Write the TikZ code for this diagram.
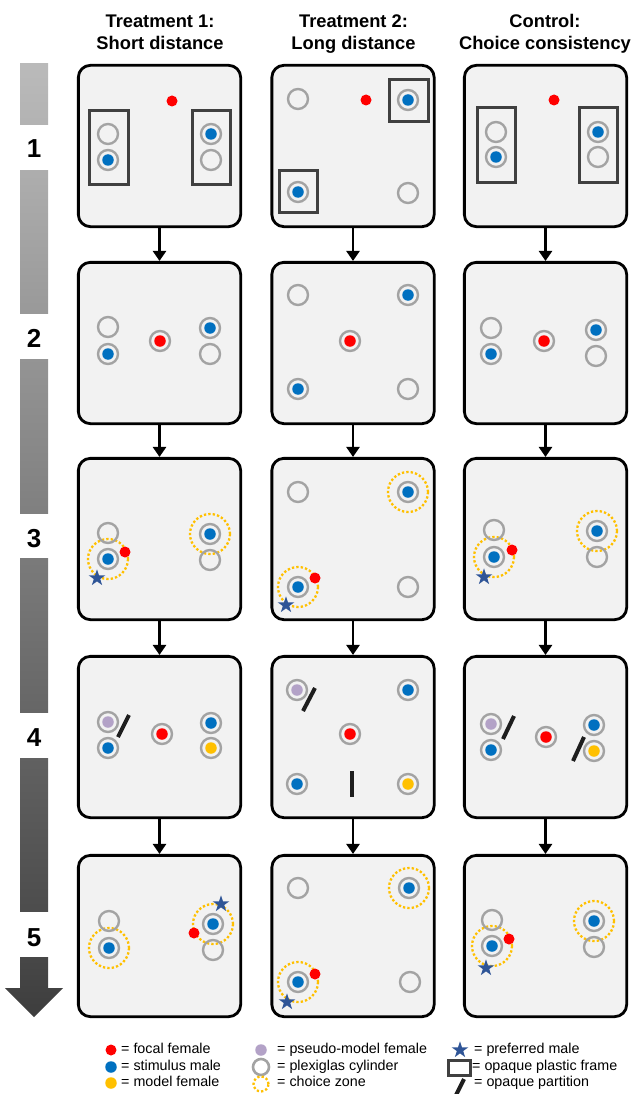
\documentclass[tikz,border=0pt]{standalone}
\usepackage{fontspec}
\setmainfont{Liberation Sans}
\usetikzlibrary{arrows.meta,shapes.geometric}
\definecolor{panelfill}{HTML}{F2F2F2}
\definecolor{ringgray}{HTML}{A3A3A3}
\definecolor{malblue}{HTML}{0070C0}
\definecolor{femred}{HTML}{FF0000}
\definecolor{modelyellow}{HTML}{FFC000}
\definecolor{zoneyellow}{HTML}{FFC000}
\definecolor{pseudo}{HTML}{B3A2C7}
\definecolor{starblue}{HTML}{2F5597}
\definecolor{framegray}{HTML}{404040}
\definecolor{partblack}{HTML}{1E1E1E}
\newcommand{\ecyl}[2]{\node[ring] (#1) at (#2) {};}
\newcommand{\fcyl}[3]{\node[ring] (#1) at (#2) {}; \node[fdot=#3] (#1d) at (#1) {};}
\newcommand{\czn}[2]{\node[czone] (#1) at (#2) {};}
\begin{document}
\begin{tikzpicture}[x=1pt,y=-1pt,
  panel/.style={draw=black, line width=2.8pt, fill=panelfill, rounded corners=12pt, minimum width=162.3pt, minimum height=161.3pt, inner sep=0pt},
  ring/.style={circle, draw=ringgray, line width=2.4pt, minimum size=20pt, inner sep=0pt},
  fdot/.style={circle, fill=#1, minimum size=11.5pt, inner sep=0pt},
  focal/.style={circle, fill=femred, minimum size=11pt, inner sep=0pt},
  czone/.style={circle, draw=zoneyellow, line width=2.3pt, dash pattern=on 2.3pt off 2.1pt, minimum size=40pt, inner sep=0pt},
  pstar/.style={star, star points=5, star point ratio=2.6, fill=starblue, minimum size=17.5pt, inner sep=0pt},
  pframe/.style={draw=framegray, line width=3pt},
  part/.style={draw=partblack, line width=4pt},
  flow/.style={draw=black, line width=2.8pt, -{Triangle[width=13pt,length=10pt]}},
  title/.style={font=\fontsize{18.3}{22}\selectfont\bfseries, anchor=base, inner sep=0pt},
  numlab/.style={font=\fontsize{26}{30}\selectfont\bfseries, anchor=base, inner sep=0pt},
  legtext/.style={font=\fontsize{14.3}{16}\selectfont, anchor=west, inner sep=0pt, text height=10pt, text depth=3pt}
]
\path[use as bounding box, fill=white] (0,0) rectangle (635,1094);

% titles
\node[title] (t1a) at (160,27.5) {Treatment 1:};
\node[title] (t1b) at (160,49.5) {Short distance};
\node[title] (t2a) at (353.5,27.5) {Treatment 2:};
\node[title] (t2b) at (353.5,49.5) {Long distance};
\node[title] (t3a) at (545,27.5) {Control:};
\node[title] (t3b) at (545,49.5) {Choice consistency};

% left time bar
\shade[top color=black!27, bottom color=black!30] (20,64) rectangle (48,125);
\shade[top color=black!32, bottom color=black!40] (20,171) rectangle (48,313);
\shade[top color=black!42, bottom color=black!50] (20,359) rectangle (48,513);
\shade[top color=black!52, bottom color=black!60] (20,558) rectangle (48,712);
\shade[top color=black!62, bottom color=black!70] (20,758) rectangle (48,911);
\shade[top color=black!72, bottom color=black!76] (20,957) -- (48,957) -- (48,988) -- (63,988) -- (34,1017) -- (5,988) -- (20,988) -- cycle;
\node[numlab] (n1) at (34,158) {1};
\node[numlab] (n2) at (34,347) {2};
\node[numlab] (n3) at (34,547) {3};
\node[numlab] (n4) at (34,746) {4};
\node[numlab] (n5) at (34,946) {5};

% panels
\foreach \r/\yc in {1/146,2/343,3/539,4/737,5/936}{
  \node[panel] (b\r1) at (159.5,\yc) {};
  \node[panel] (b\r2) at (353,\yc) {};
  \node[panel] (b\r3) at (545.5,\yc) {};
}
\foreach \r/\s in {1/2,2/3,3/4,4/5}{
  \draw[flow] (b\r1.south) -- (b\s1.north);
  \draw[flow] (b\r2.south) -- (b\s2.north);
  \draw[flow] (b\r3.south) -- (b\s3.north);
}

% ---------- row 1
\begin{scope}[shift={(78,64)}]
  \node[focal] (a11r) at (94,37) {};
  \draw[pframe] (11,47) rectangle (50,121);
  \draw[pframe] (114,47) rectangle (152,121);
  \ecyl{a11a}{30,70} \fcyl{a11b}{30,96}{malblue}
  \fcyl{a11c}{133,70}{malblue} \ecyl{a11d}{133,96}
\end{scope}
\begin{scope}[shift={(270,64)}]
  \node[focal] (a12r) at (96,36) {};
  \draw[pframe] (119,16) rectangle (158,58);
  \draw[pframe] (9,107) rectangle (47,148);
  \ecyl{a12a}{28,35} \fcyl{a12b}{138,36}{malblue}
  \fcyl{a12c}{28,128}{malblue} \ecyl{a12d}{138,129}
\end{scope}
\begin{scope}[shift={(463,64)}]
  \node[focal] (a13r) at (91,36) {};
  \draw[pframe] (14,44) rectangle (52,119);
  \draw[pframe] (116,44) rectangle (154,119);
  \ecyl{a13a}{33,68} \fcyl{a13b}{33,93}{malblue}
  \fcyl{a13c}{135,68}{malblue} \ecyl{a13d}{135,93}
\end{scope}

% ---------- row 2
\begin{scope}[shift={(78,261)}]
  \ecyl{a21a}{30,66} \fcyl{a21b}{30,93}{malblue}
  \fcyl{a21r}{82,80}{femred}
  \fcyl{a21c}{132,67}{malblue} \ecyl{a21d}{132,93}
\end{scope}
\begin{scope}[shift={(270,261)}]
  \ecyl{a22a}{28,34} \fcyl{a22b}{138,34}{malblue}
  \fcyl{a22r}{80,80}{femred}
  \fcyl{a22c}{28,128}{malblue} \ecyl{a22d}{138,128}
\end{scope}
\begin{scope}[shift={(463,261)}]
  \ecyl{a23a}{28,67} \fcyl{a23b}{28,93}{malblue}
  \fcyl{a23r}{81,80}{femred}
  \fcyl{a23c}{133,69}{malblue} \ecyl{a23d}{133,95}
\end{scope}

% ---------- row 3
\begin{scope}[shift={(78,457)}]
  \czn{z31a}{30,102} \czn{z31b}{132,77}
  \ecyl{a31a}{30,76} \fcyl{a31b}{30,102}{malblue}
  \fcyl{a31c}{132,77}{malblue} \ecyl{a31d}{132,103}
  \node[focal] (a31r) at (47,95) {};
  \node[pstar] (s31) at (19,121) {};
\end{scope}
\begin{scope}[shift={(270,457)}]
  \czn{z32a}{138,35} \czn{z32b}{28,130}
  \ecyl{a32a}{28,35} \fcyl{a32b}{138,35}{malblue}
  \fcyl{a32c}{28,130}{malblue} \ecyl{a32d}{138,130}
  \node[focal] (a32r) at (45,121) {};
  \node[pstar] (s32) at (16,148) {};
\end{scope}
\begin{scope}[shift={(463,457)}]
  \czn{z33a}{31,100} \czn{z33b}{134,74}
  \ecyl{a33a}{31,73} \fcyl{a33b}{31,100}{malblue}
  \fcyl{a33c}{134,74}{malblue} \ecyl{a33d}{134,100}
  \node[focal] (a33r) at (49,93) {};
  \node[pstar] (s33) at (21,120) {};
\end{scope}

% ---------- row 4
\begin{scope}[shift={(78,655)}]
  \fcyl{a41a}{30,67}{pseudo} \fcyl{a41b}{30,93}{malblue}
  \fcyl{a41r}{84,79}{femred}
  \fcyl{a41c}{133,68}{malblue} \fcyl{a41d}{133,93}{modelyellow}
  \draw[part] (51,60) -- (40,82);
\end{scope}
\begin{scope}[shift={(270,655)}]
  \fcyl{a42a}{27,35}{pseudo} \fcyl{a42b}{138,35}{malblue}
  \fcyl{a42r}{80,79}{femred}
  \fcyl{a42c}{27,129}{malblue} \fcyl{a42d}{138,129}{modelyellow}
  \draw[part] (45,33) -- (33,56);
  \draw[part] (82,116) -- (82,142);
\end{scope}
\begin{scope}[shift={(463,655)}]
  \fcyl{a43a}{28,69}{pseudo} \fcyl{a43b}{28,95}{malblue}
  \fcyl{a43r}{83,82}{femred}
  \fcyl{a43c}{131,70}{malblue} \fcyl{a43d}{131,96}{modelyellow}
  \draw[part] (51,61) -- (40,84);
  \draw[part] (121,82) -- (110,106);
\end{scope}

% ---------- row 5
\begin{scope}[shift={(78,854)}]
  \czn{z51a}{31,94} \czn{z51b}{135,70}
  \ecyl{a51a}{31,67} \fcyl{a51b}{31,94}{malblue}
  \fcyl{a51c}{135,70}{malblue} \ecyl{a51d}{135,96}
  \node[focal] (a51r) at (116,79) {};
  \node[pstar] (s51) at (143,50) {};
\end{scope}
\begin{scope}[shift={(270,854)}]
  \czn{z52a}{139,34} \czn{z52b}{28,128}
  \ecyl{a52a}{28,34} \fcyl{a52b}{139,34}{malblue}
  \fcyl{a52c}{28,128}{malblue} \ecyl{a52d}{140,128}
  \node[focal] (a52r) at (45,120) {};
  \node[pstar] (s52) at (17,148) {};
\end{scope}
\begin{scope}[shift={(463,854)}]
  \czn{z53a}{29,92} \czn{z53b}{131,67}
  \ecyl{a53a}{29,66} \fcyl{a53b}{29,92}{malblue}
  \fcyl{a53c}{131,67}{malblue} \ecyl{a53d}{131,93}
  \node[focal] (a53r) at (46,85) {};
  \node[pstar] (s53) at (23,114) {};
\end{scope}

% ---------- legend
\node[focal] (L1) at (111,1050) {};
\node[legtext] (L1t) at (121,1050) {= focal female};
\node[fdot=malblue] (L2) at (111,1067) {};
\node[legtext] (L2t) at (121,1067) {= stimulus male};
\node[fdot=modelyellow] (L3) at (111,1083) {};
\node[legtext] (L3t) at (121,1083) {= model female};
\node[fdot=pseudo] (L4) at (261,1050) {};
\node[legtext] (L4t) at (277,1050) {= pseudo-model female};
\node[ring, minimum size=16pt, line width=2.6pt] (L5) at (261,1067) {};
\node[legtext] (L5t) at (277,1067) {= plexiglas cylinder};
\node[czone, minimum size=15pt] (L6) at (261,1084) {};
\node[legtext] (L6t) at (277,1083) {= choice zone};
\node[pstar] (L7) at (460,1050) {};
\node[legtext] (L7t) at (474,1050) {= preferred male};
\draw[pframe] (448,1060) rectangle (470,1075);
\node[legtext] (L8t) at (472,1067) {= opaque plastic frame};
\draw[part] (464,1079) -- (455,1097);
\node[legtext] (L9t) at (474,1083) {= opaque partition};
\end{tikzpicture}
\end{document}
